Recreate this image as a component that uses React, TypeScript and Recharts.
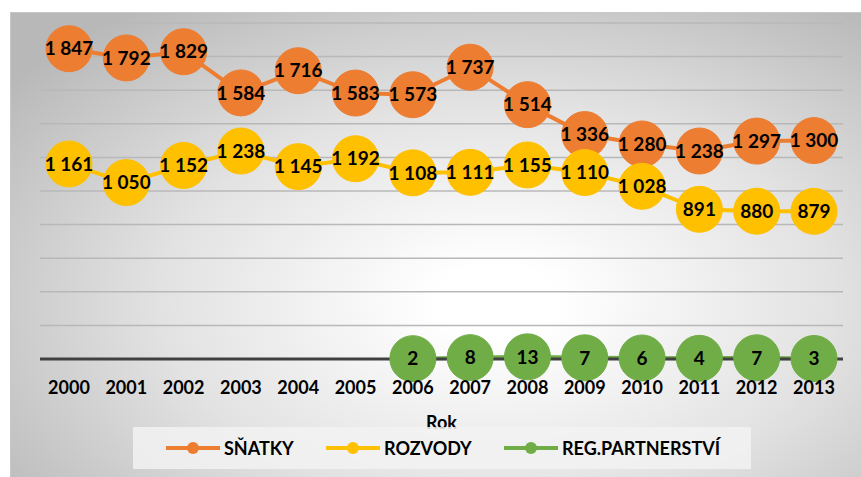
import { LineChart, Line, XAxis, YAxis, CartesianGrid, LabelList } from 'recharts'

const years = ['2000', '2001', '2002', '2003', '2004', '2005', '2006', '2007', '2008', '2009', '2010', '2011', '2012', '2013']
const snatky = [1847, 1792, 1829, 1584, 1716, 1583, 1573, 1737, 1514, 1336, 1280, 1238, 1297, 1300]
const rozvody = [1161, 1050, 1152, 1238, 1145, 1192, 1108, 1111, 1155, 1110, 1028, 891, 880, 879]
const partnerstvi = [null, null, null, null, null, null, 2, 8, 13, 7, 6, 4, 7, 3]
const yTicks = [0, 200, 400, 600, 800, 1000, 1200, 1400, 1600, 1800, 2000]

const ORANGE = '#ED7D31'
const YELLOW = '#FFC000'
const GREEN = '#70AD47'
const FONT = 'Lato, "Open Sans", sans-serif'

const data = years.map((year, i) => ({
  year,
  snatky: snatky[i],
  rozvody: rozvody[i],
  partnerstvi: partnerstvi[i],
}))

const fmt = (v: any) => (v == null ? '' : String(v).replace(/\B(?=(\d{3})+(?!\d))/g, ' '))

const series = [
  { key: 'snatky', name: 'SŇATKY', color: ORANGE, x: 33 },
  { key: 'rozvody', name: 'ROZVODY', color: YELLOW, x: 193 },
  { key: 'partnerstvi', name: 'REG.PARTNERSTVÍ', color: GREEN, x: 371 },
]

function LegendBox() {
  return (
    <div
      style={{
        position: 'absolute',
        left: 133,
        top: 427,
        width: 618,
        height: 42,
        background: 'rgba(242,242,242,0.85)',
        fontFamily: FONT,
        fontWeight: 700,
        fontSize: 18,
        color: '#000',
      }}
    >
      {series.map((s) => (
        <div
          key={s.key}
          style={{ position: 'absolute', left: s.x, top: 0, height: 42, display: 'flex', alignItems: 'center' }}
        >
          <svg width={54} height={14} style={{ marginRight: 4 }}>
            <line x1={0} y1={7} x2={54} y2={7} stroke={s.color} strokeWidth={4} />
            <circle cx={27} cy={7} r={6} fill={s.color} />
          </svg>
          <span>{s.name}</span>
        </div>
      ))}
    </div>
  )
}

export default function App() {
  return (
    <div style={{ position: 'absolute', left: 0, top: 0, width: 861, height: 477, background: '#fff', overflow: 'hidden' }}>
      <div
        style={{
          position: 'absolute',
          left: 10,
          top: 12,
          width: 851,
          height: 465,
          borderTop: '1px solid #c8c8c8',
          borderLeft: '1px solid #c8c8c8',
          background: 'radial-gradient(ellipse 72% 78% at 57% 62%, #ffffff 10%, #e2e2e2 55%, #b8b8b8 100%)',
        }}
      />
      <div style={{ position: 'absolute', left: 0, top: 0 }}>
        <LineChart width={861} height={477} data={data} margin={{ top: 23, right: 18, left: 40, bottom: 48 }}>
          <CartesianGrid horizontal vertical={false} stroke="#b8b8b8" strokeWidth={1.5} />
          <YAxis hide domain={[0, 2000]} ticks={yTicks} />
          <XAxis
            dataKey="year"
            height={70}
            padding={{ left: 29, right: 29 }}
            axisLine={{ stroke: '#404040', strokeWidth: 3 }}
            tickLine={false}
            tickMargin={16}
            tick={{ fill: '#000', fontSize: 18, fontWeight: 700, fontFamily: FONT }}
            label={{ value: 'Rok', position: 'insideBottom', offset: 0, fill: '#000', fontSize: 18, fontWeight: 700, fontFamily: FONT }}
          />
          {series.map((s) => (
            <Line
              key={s.key}
              dataKey={s.key}
              name={s.name}
              stroke={s.color}
              strokeWidth={4}
              dot={{ r: 23, fill: s.color, stroke: s.color, strokeWidth: 1 }}
              activeDot={false}
              isAnimationActive={false}
            >
              <LabelList
                dataKey={s.key}
                position="center"
                formatter={fmt}
                fill="#000"
                fontSize={19}
                fontWeight={700}
                fontFamily={FONT}
              />
            </Line>
          ))}
        </LineChart>
      </div>
      <LegendBox />
    </div>
  )
}
